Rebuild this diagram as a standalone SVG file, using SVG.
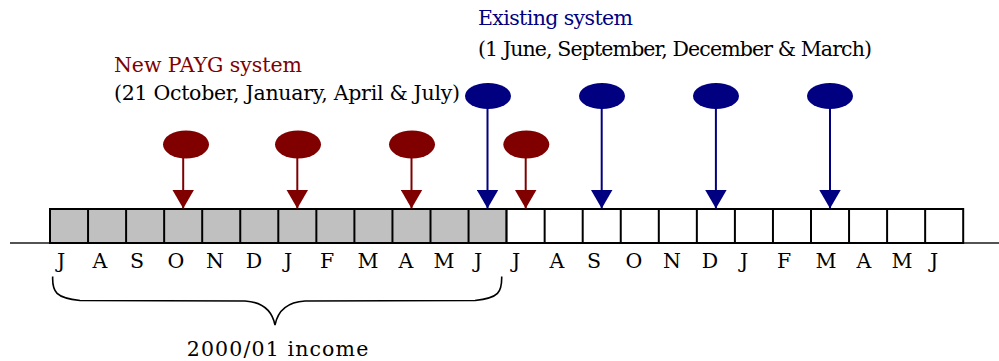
<svg xmlns="http://www.w3.org/2000/svg" width="999" height="361" viewBox="0 0 999 361">
  <style>
    text { font-family: "DejaVu Serif", "Liberation Serif", serif; }
    .month { font-size: 20.5px; fill: #000; text-anchor: middle; }
    .title-red { font-size: 20.5px; fill: #800000; }
    .title-blue { font-size: 20.5px; fill: #000080; }
    .note { font-size: 20.5px; fill: #000; }
    .box-past { fill: #c0c0c0; stroke: #000; stroke-width: 2; }
    .box-future { fill: #fff; stroke: #000; stroke-width: 2; }
    .axis { stroke: #1a1a1a; stroke-width: 1.6; fill: none; }
    .red-stem { stroke: #800000; stroke-width: 2; fill: none; }
    .blue-stem { stroke: #000080; stroke-width: 2; fill: none; }
    .red-dot { fill: #800000; }
    .blue-dot { fill: #000080; }
    .brace { stroke: #000; stroke-width: 1.6; fill: none; }
  </style>
  <defs>
    <marker id="arrow-red" viewBox="0 0 19 22" refX="19" refY="11" markerWidth="19" markerHeight="22" markerUnits="userSpaceOnUse" orient="auto">
      <path d="M0,0 L19,11 L0,22 Z" fill="#800000"/>
    </marker>
    <marker id="arrow-blue" viewBox="0 0 19 22" refX="19" refY="11" markerWidth="19" markerHeight="22" markerUnits="userSpaceOnUse" orient="auto">
      <path d="M0,0 L19,11 L0,22 Z" fill="#000080"/>
    </marker>
  </defs>

  <rect width="999" height="361" fill="#fff"/>

  <!-- timeline: 24 monthly cells, first 12 shaded -->
  <g id="timeline">
    <line class="axis" x1="10" y1="243" x2="999" y2="243"/>
    <rect class="box-past" x="50" y="209" width="456.6" height="34"/>
    <rect class="box-future" x="506.6" y="209" width="456.6" height="34"/>
    <g stroke="#000" stroke-width="2">
      <line x1="88.05" y1="209" x2="88.05" y2="243"/>
      <line x1="126.1" y1="209" x2="126.1" y2="243"/>
      <line x1="164.15" y1="209" x2="164.15" y2="243"/>
      <line x1="202.2" y1="209" x2="202.2" y2="243"/>
      <line x1="240.25" y1="209" x2="240.25" y2="243"/>
      <line x1="278.3" y1="209" x2="278.3" y2="243"/>
      <line x1="316.35" y1="209" x2="316.35" y2="243"/>
      <line x1="354.4" y1="209" x2="354.4" y2="243"/>
      <line x1="392.45" y1="209" x2="392.45" y2="243"/>
      <line x1="430.5" y1="209" x2="430.5" y2="243"/>
      <line x1="468.55" y1="209" x2="468.55" y2="243"/>
      <line x1="544.65" y1="209" x2="544.65" y2="243"/>
      <line x1="582.7" y1="209" x2="582.7" y2="243"/>
      <line x1="620.75" y1="209" x2="620.75" y2="243"/>
      <line x1="658.8" y1="209" x2="658.8" y2="243"/>
      <line x1="696.85" y1="209" x2="696.85" y2="243"/>
      <line x1="734.9" y1="209" x2="734.9" y2="243"/>
      <line x1="772.95" y1="209" x2="772.95" y2="243"/>
      <line x1="811" y1="209" x2="811" y2="243"/>
      <line x1="849.05" y1="209" x2="849.05" y2="243"/>
      <line x1="887.1" y1="209" x2="887.1" y2="243"/>
      <line x1="925.15" y1="209" x2="925.15" y2="243"/>
    </g>
  </g>

  <!-- month initials -->
  <g id="months">
    <text class="month" x="61" y="268">J</text>
    <text class="month" x="100" y="268">A</text>
    <text class="month" x="137" y="268">S</text>
    <text class="month" x="176" y="268">O</text>
    <text class="month" x="215" y="268">N</text>
    <text class="month" x="254" y="268">D</text>
    <text class="month" x="288" y="268">J</text>
    <text class="month" x="327" y="268">F</text>
    <text class="month" x="368" y="268">M</text>
    <text class="month" x="406" y="268">A</text>
    <text class="month" x="444" y="268">M</text>
    <text class="month" x="478" y="268">J</text>
    <text class="month" x="516" y="268">J</text>
    <text class="month" x="557" y="268">A</text>
    <text class="month" x="594" y="268">S</text>
    <text class="month" x="634" y="268">O</text>
    <text class="month" x="672" y="268">N</text>
    <text class="month" x="710" y="268">D</text>
    <text class="month" x="744" y="268">J</text>
    <text class="month" x="784" y="268">F</text>
    <text class="month" x="826" y="268">M</text>
    <text class="month" x="864" y="268">A</text>
    <text class="month" x="902" y="268">M</text>
    <text class="month" x="934" y="268">J</text>
  </g>

  <!-- legend labels -->
  <g id="label-payg">
    <text class="title-red" x="114" y="72" textLength="188">New PAYG system</text>
    <text class="note" x="114" y="100" textLength="346">(21 October, January, April &amp; July)</text>
  </g>
  <g id="label-existing">
    <text class="title-blue" x="478" y="25" textLength="155">Existing system</text>
    <text class="note" x="478" y="56" textLength="394">(1 June, September, December &amp; March)</text>
  </g>

  <!-- PAYG instalment dates -->
  <g id="payg-oct"><ellipse class="red-dot" cx="186" cy="144.5" rx="23" ry="14"/></g>
  <g id="payg-jan"><ellipse class="red-dot" cx="298" cy="144.5" rx="23" ry="14"/></g>
  <g id="payg-apr"><ellipse class="red-dot" cx="412" cy="144.5" rx="23" ry="14"/></g>
  <g id="payg-jul"><ellipse class="red-dot" cx="526.3" cy="144.5" rx="23" ry="14"/></g>

  <!-- existing system dates -->
  <g id="existing-jun"><ellipse class="blue-dot" cx="488" cy="96" rx="23" ry="13"/></g>
  <g id="existing-sep"><ellipse class="blue-dot" cx="602" cy="96" rx="23" ry="13"/></g>
  <g id="existing-dec"><ellipse class="blue-dot" cx="716" cy="96" rx="23" ry="13"/></g>
  <g id="existing-mar"><ellipse class="blue-dot" cx="830" cy="96" rx="23" ry="13"/></g>

  <!-- connectors from dates down to the timeline -->
  <g id="connectors">
    <line class="red-stem" x1="183.2" y1="158" x2="183.2" y2="208.5" marker-end="url(#arrow-red)"/>
    <line class="red-stem" x1="297.3" y1="158" x2="297.3" y2="208.5" marker-end="url(#arrow-red)"/>
    <line class="red-stem" x1="411.5" y1="158" x2="411.5" y2="208.5" marker-end="url(#arrow-red)"/>
    <line class="red-stem" x1="525.7" y1="158" x2="525.7" y2="208.5" marker-end="url(#arrow-red)"/>
    <line class="blue-stem" x1="487.5" y1="108" x2="487.5" y2="208.5" marker-end="url(#arrow-blue)"/>
    <line class="blue-stem" x1="601.7" y1="108" x2="601.7" y2="208.5" marker-end="url(#arrow-blue)"/>
    <line class="blue-stem" x1="715.9" y1="108" x2="715.9" y2="208.5" marker-end="url(#arrow-blue)"/>
    <line class="blue-stem" x1="830" y1="108" x2="830" y2="208.5" marker-end="url(#arrow-blue)"/>
  </g>

  <!-- income year brace -->
  <g id="income-year">
    <path class="brace" d="M52.7,276.5 C52,292 56,298 80,300.5 L245,301 C262,302 272,310 275,325 C278,310 288,302 305,301 L475,300.5 C499,298 502,292 501.7,276.5"/>
    <text class="note" x="186.7" y="356" textLength="181.6">2000/01 income</text>
  </g>
</svg>
